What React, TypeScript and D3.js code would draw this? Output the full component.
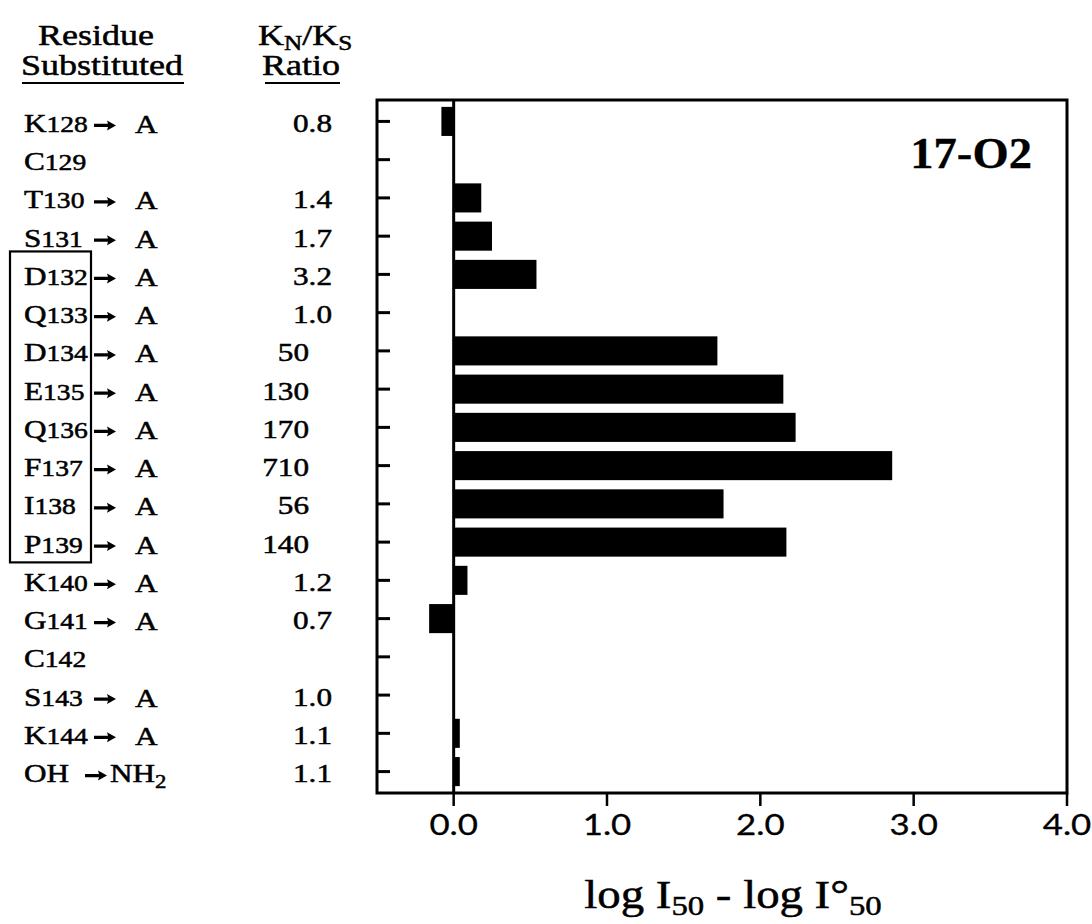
import React from "react";
import * as d3 from "d3";

const residues = ["K128","C129","T130","S131","D132","Q133","D134","E135","Q136","F137","I138","P139","K140","G141","C142","S143","K144","OH"];
const targets = ["A","","A","A","A","A","A","A","A","A","A","A","A","A","","A","A","NH2"];
const ratios = ["0.8","","1.4","1.7","3.2","1.0","50","130","170","710","56","140","1.2","0.7","","1.0","1.1","1.1"];
const logDiff: (number | null)[] = [-0.08,null,0.18,0.25,0.54,0,1.72,2.15,2.23,2.86,1.76,2.17,0.09,-0.16,null,0,0.04,0.04];
const xTicks = [0, 1, 2, 3, 4];
const boxedFirst = "D132";
const boxedLast = "P139";
const title = "17-O2";

const W = 1092, H = 924;
const frame = { left: 377, right: 1067, top: 100, bottom: 793 };
const SERIF = "'Liberation Serif', 'Times New Roman', serif";
const SANS = "Lato, 'Noto Sans', sans-serif";
const SX = 1.2; // horizontal stretch of the scanned lettering

function T({ x, y, size, anchor = "start", children, weight, family = SERIF, sx = SX, sw = 0.5 }: any) {
  return (
    <text
      transform={`translate(${x},${y}) scale(${sx},1)`}
      fontSize={size}
      textAnchor={anchor}
      fontFamily={family}
      fontWeight={weight}
      fill="#000"
      stroke="#000"
      strokeWidth={sw}
    >
      {children}
    </text>
  );
}

function Arrow({ x0, yc }: { x0: number; yc: number }) {
  const p = d3.path();
  p.moveTo(x0, yc - 1.7);
  p.lineTo(x0 + 14, yc - 1.7);
  p.lineTo(x0 + 13, yc - 5);
  p.lineTo(x0 + 22, yc);
  p.lineTo(x0 + 13, yc + 5);
  p.lineTo(x0 + 14, yc + 1.7);
  p.lineTo(x0, yc + 1.7);
  p.closePath();
  return <path d={p.toString()} fill="#000" />;
}

export default function App() {
  const x = d3.scaleLinear().domain([-0.5, 4]).range([frame.left, frame.right]);
  const y = d3.scaleBand<string>().domain(residues).range([frame.top, frame.bottom]).paddingInner(0.24).paddingOuter(0.18);
  const bw = y.bandwidth();
  const cy = (r: string) => (y(r) as number) + bw / 2;
  const step = y.step();

  const boxTop = cy(boxedFirst) - step * 0.6;
  const boxBottom = cy(boxedLast) + step * 0.53;

  return (
    <svg width={W} height={H} style={{ position: "absolute", left: 0, top: 0, background: "#fff" }}>
      <rect x={0} y={0} width={W} height={H} fill="#fff" />
      {/* headers */}
      <T x={96} y={45} size={30} anchor="middle">Residue</T>
      <T x={102} y={75} size={30} anchor="middle">Substituted</T>
      <line x1={22} x2={184} y1={83} y2={83} stroke="#000" strokeWidth={2.2} />
      <T x={258} y={45} size={30}>
        K<tspan fontSize={21} dy={5}>N</tspan><tspan dy={-5}>/K</tspan><tspan fontSize={21} dy={5}>S</tspan>
      </T>
      <T x={301} y={75} size={30} anchor="middle">Ratio</T>
      <line x1={265} x2={340} y1={83} y2={83} stroke="#000" strokeWidth={2.2} />

      {/* row labels */}
      {residues.map((r, i) => {
        const m = r.match(/^([A-Z]+?)(\d*)$/);
        const letter = m ? m[1] : r;
        const num = m ? m[2] : "";
        const c = cy(r);
        const base = c + 10.5;
        const t = targets[i];
        const arrowX = num ? 94 : 85;
        const ratio = ratios[i];
        return (
          <g key={r}>
            <T x={24} y={base} size={26}>
              {letter}
              {num && <tspan fontSize={23}>{num}</tspan>}
            </T>
            {t && <Arrow x0={arrowX} yc={c + 4} />}
            {t && (t === "NH2" ? (
              <T x={110} y={base} size={26}>
                NH<tspan fontSize={19} dy={6}>2</tspan>
              </T>
            ) : (
              <T x={135} y={base + 1} size={26}>{t}</T>
            ))}
            {ratio && (
              <T x={ratio.includes(".") ? 332 : 309} y={base} size={26} anchor="end">{ratio}</T>
            )}
          </g>
        );
      })}
      <rect x={10} y={boxTop} width={81} height={boxBottom - boxTop} fill="none" stroke="#000" strokeWidth={2.2} />

      {/* plot */}
      <g>
        {residues.map((r, i) => {
          const v = logDiff[i];
          if (v === null || v === 0) return null;
          const x0 = x(Math.min(0, v));
          const x1 = x(Math.max(0, v));
          return <rect key={r} x={x0} y={y(r)} width={x1 - x0} height={bw} fill="#000" />;
        })}
        <line x1={x(0)} x2={x(0)} y1={frame.top} y2={frame.bottom} stroke="#000" strokeWidth={3} />
        {residues.map((r) => (
          <line key={r} x1={frame.left} x2={frame.left + 13} y1={cy(r)} y2={cy(r)} stroke="#000" strokeWidth={3} />
        ))}
        {xTicks.map((t) => (
          <line key={t} x1={x(t)} x2={x(t)} y1={frame.bottom} y2={frame.bottom + 13} stroke="#000" strokeWidth={2.5} />
        ))}
        <rect x={frame.left} y={frame.top} width={frame.right - frame.left} height={frame.bottom - frame.top} fill="none" stroke="#000" strokeWidth={3} />
        {xTicks.map((t) => (
          <T key={t} x={x(t)} y={835} size={29} anchor="middle" family={SANS} sw={0.3}>{d3.format(".1f")(t)}</T>
        ))}
        <T x={733} y={908} size={40} anchor="middle" sx={1.17}>
          log I<tspan fontSize={28} dy={7}>50</tspan><tspan dy={-7}> - log I°</tspan><tspan fontSize={28} dy={7}>50</tspan>
        </T>
        <T x={1032} y={168} size={44} anchor="end" weight="bold" sx={1.06} sw={0.3}>{title}</T>
      </g>
    </svg>
  );
}
